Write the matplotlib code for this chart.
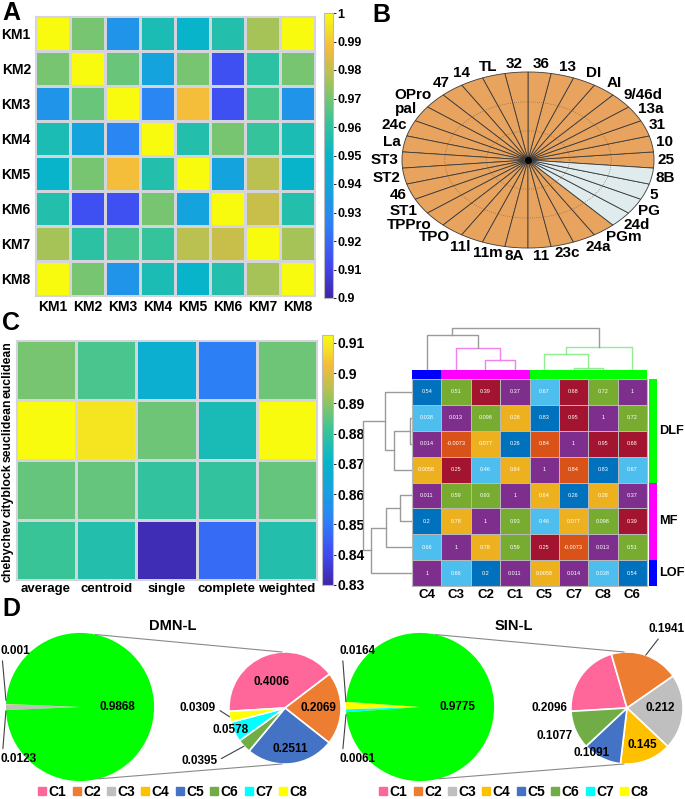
import numpy as np
import matplotlib
matplotlib.use("Agg")
import matplotlib.pyplot as plt
from matplotlib.colors import LinearSegmentedColormap, ListedColormap
from matplotlib.patches import ConnectionPatch
from matplotlib.lines import Line2D

plt.rcParams["font.family"] = ["Liberation Sans", "DejaVu Sans"]
plt.rcParams["font.weight"] = "bold"

# ---------------- data ----------------
km_labels = ["KM1", "KM2", "KM3", "KM4", "KM5", "KM6", "KM7", "KM8"]
km_similarity = [
    [1.000, 0.970, 0.933, 0.955, 0.949, 0.957, 0.976, 1.000],
    [0.970, 1.000, 0.968, 0.939, 0.970, 0.914, 0.959, 0.970],
    [0.933, 0.968, 1.000, 0.928, 0.988, 0.914, 0.964, 0.933],
    [0.955, 0.939, 0.928, 1.000, 0.957, 0.970, 0.961, 0.955],
    [0.949, 0.970, 0.988, 0.957, 1.000, 0.939, 0.979, 0.949],
    [0.957, 0.914, 0.914, 0.970, 0.939, 1.000, 0.981, 0.957],
    [0.976, 0.959, 0.964, 0.961, 0.979, 0.981, 1.000, 0.976],
    [1.000, 0.970, 0.933, 0.955, 0.949, 0.957, 0.976, 1.000],
]

regions = ["25", "10", "31", "13a", "9/46d", "AI", "DI", "13", "36", "32", "TL",
           "14", "47", "OPro", "pal", "24c", "La", "ST3", "ST2", "46", "ST1",
           "TPPro", "TPO", "11l", "11m", "8A", "11", "23c", "24a", "PGm",
           "24d", "PG", "5", "8B"]
regions_second = ["24d", "PG", "5", "8B"]

link_methods = ["average", "centroid", "single", "complete", "weighted"]
distances = ["euclidean", "seuclidean", "cityblock", "chebychev"]
coph_corr = [
    [0.888, 0.883, 0.868, 0.851, 0.887],
    [0.9125, 0.909, 0.887, 0.875, 0.9125],
    [0.886, 0.886, 0.880, 0.880, 0.886],
    [0.881, 0.877, 0.832, 0.847, 0.877],
]

col_order = ["C4", "C3", "C2", "C1", "C5", "C7", "C8", "C6"]
row_order = ["C6", "C8", "C7", "C5", "C1", "C2", "C3", "C4"]
corr = [
    [0.54, 0.51, 0.39, 0.37, 0.67, 0.68, 0.72, 1],
    [0.038, 0.013, 0.098, 0.28, 0.83, 0.95, 1, 0.72],
    [0.014, -0.0073, 0.077, 0.26, 0.84, 1, 0.95, 0.68],
    [0.0058, 0.25, 0.46, 0.64, 1, 0.84, 0.83, 0.67],
    [0.011, 0.59, 0.93, 1, 0.64, 0.26, 0.28, 0.37],
    [0.2, 0.78, 1, 0.93, 0.46, 0.077, 0.098, 0.39],
    [0.66, 1, 0.78, 0.59, 0.25, -0.0073, 0.013, 0.51],
    [1, 0.66, 0.2, 0.011, 0.0058, 0.014, 0.038, 0.54],
]
# colour class of each correlation value (cycled "lines" palette)
corr_class = {-0.0073: 1, 0.0058: 2, 0.011: 3, 0.013: 3, 0.014: 3, 0.038: 5,
              0.077: 2, 0.098: 4, 0.2: 0, 0.25: 6, 0.26: 0, 0.28: 2, 0.37: 3,
              0.39: 6, 0.46: 5, 0.51: 4, 0.54: 0, 0.59: 4, 0.64: 2, 0.66: 5,
              0.67: 5, 0.68: 6, 0.72: 4, 0.78: 2, 0.83: 0, 0.84: 1, 0.93: 4,
              0.95: 6, 1: 3}
cluster_group = {"C1": "MF", "C2": "MF", "C3": "MF", "C4": "LOF",
                 "C5": "DLF", "C6": "DLF", "C7": "DLF", "C8": "DLF"}
# merges: (a, b, new, height)
merges = [("C7", "C8", "g1", 0.05), ("C2", "C1", "m1", 0.24),
          ("C5", "g1", "g2", 0.37), ("C3", "m1", "m2", 0.52),
          ("g2", "C6", "g3", 0.56), ("C4", "m2", "k1", 0.84),
          ("k1", "g3", "root", 1.0)]

dmn_main_names = ["C4", "C3"]
dmn_main_vals = [0.001, 0.0123]
dmn_other = 0.9868
dmn_split_names = ["C1", "C2", "C5", "C6", "C7", "C8"]
dmn_split_vals = [0.4006, 0.2069, 0.2511, 0.0395, 0.0578, 0.0309]

sin_main_names = ["C8", "C7"]
sin_main_vals = [0.0164, 0.0061]
sin_other = 0.9775
sin_split_names = ["C1", "C2", "C3", "C4", "C5", "C6"]
sin_split_vals = [0.2096, 0.1941, 0.212, 0.145, 0.1091, 0.1077]

clusters = ["C1", "C2", "C3", "C4", "C5", "C6", "C7", "C8"]
cluster_colours = {"C1": "#FF6699", "C2": "#ED7D31", "C3": "#BFBFBF", "C4": "#FFC000",
                   "C5": "#4472C4", "C6": "#70AD47", "C7": "#00FFFF", "C8": "#FFFF00"}

# ---------------- style ----------------
parula = LinearSegmentedColormap.from_list("parula", [
    (0.0, "#3E26A8"), (0.12, "#4249F1"), (0.25, "#2E7EF7"), (0.375, "#16A1E0"),
    (0.5, "#07B6C8"), (0.625, "#3BC596"), (0.75, "#9DC45A"), (0.875, "#F4BA3C"),
    (0.94, "#F4DD28"), (1.0, "#F9FB0E")])
lines_pal = ListedColormap(["#0072BD", "#D95319", "#EDB120", "#7E2F8E",
                            "#77AC30", "#4DBEEE", "#A2142F"])
group_colours = {"DLF": "#00FF00", "MF": "#FF00FF", "LOF": "#0000FF"}
grid_col = "#d4d4dc"

W, H = 685, 799
fig = plt.figure(figsize=(W / 100, H / 100), dpi=100)


def px_axes(l, t, w, h):
    return fig.add_axes([l / W, 1 - (t + h) / H, w / W, h / H])


def letter(x, y, s):
    fig.text(x / W, 1 - y / H, s, fontsize=18, ha="left", va="top")


# ---------------- A ----------------
axA = px_axes(35, 16, 280, 280)
mA = axA.pcolormesh(np.array(km_similarity), cmap=parula, vmin=0.9, vmax=1.0,
                    edgecolors=grid_col, linewidth=1)
axA.set_xlim(0, 8)
axA.set_ylim(8, 0)
axA.set_xticks(np.arange(8) + 0.5, km_labels, fontsize=10)
axA.set_yticks(np.arange(8) + 0.5, km_labels, fontsize=10)
axA.tick_params(length=0, pad=3)
for s in axA.spines.values():
    s.set_color(grid_col)
caxA = px_axes(324, 13, 9, 285)
tA = np.round(np.arange(0.9, 1.0001, 0.01), 2)
cbA = fig.colorbar(mA, cax=caxA, ticks=tA)
cbA.ax.set_yticklabels([f"{t:g}" for t in tA])
cbA.ax.tick_params(length=2, width=0.6, labelsize=9, pad=1)
cbA.outline.set_edgecolor("#bbbbbb")
letter(2, 1, "A")

# ---------------- B ----------------
axB = px_axes(373, 55, 310, 210)
b_cols = ["#DFEBEC" if r in regions_second else "#E8A35E" for r in regions]
step = 360 / len(regions)
wedges, _ = axB.pie(np.ones(len(regions)), colors=b_cols, startangle=-step / 2,
                    counterclock=True,
                    wedgeprops=dict(edgecolor="#3a3a3a", linewidth=0.6))
axB.set_aspect("auto")
axB.set_xlim(-1.23, 1.23)
axB.set_ylim(-1.193, 1.193)
tt = np.linspace(0, 2 * np.pi, 300)
for rr in (0.33, 0.66):
    axB.plot(rr * np.cos(tt), rr * np.sin(tt), ls=(0, (1, 2)), color="#7a5a3a", lw=0.5)
axB.plot(0, 0, "o", color="black", ms=4)
for w, lab in zip(wedges, regions):
    th = np.deg2rad(0.5 * (w.theta1 + w.theta2))
    c, s = np.cos(th), np.sin(th)
    if c > 0.4:
        ha, fx = "left", 1.03
    elif c < -0.4:
        ha, fx = "right", 1.03
    else:
        ha, fx = "center", 1.15
    axB.text(fx * c, 1.1 * s, lab, ha=ha, va="center", fontsize=11, clip_on=False)
axB.axis("off")
letter(372, 3, "B")

# ---------------- C (left) ----------------
axC = px_axes(16, 340, 301, 240)
mC = axC.pcolormesh(np.array(coph_corr), cmap=parula, vmin=0.83, vmax=0.9126,
                    edgecolors=grid_col, linewidth=1)
axC.set_xlim(0, 5)
axC.set_ylim(4, 0)
axC.set_xticks(np.arange(5) + 0.5, link_methods, fontsize=9.5)
axC.set_yticks(np.arange(4) + 0.5, distances, fontsize=8.8, rotation=90, va="center")
axC.tick_params(length=0, pad=2)
for s in axC.spines.values():
    s.set_color(grid_col)
caxC = px_axes(322, 335, 11, 250)
tC = np.round(np.arange(0.83, 0.9101, 0.01), 2)
cbC = fig.colorbar(mC, cax=caxC, ticks=tC)
cbC.ax.set_yticklabels([f"{t:g}" for t in tC])
cbC.ax.tick_params(length=2, width=0.6, labelsize=10, pad=1)
cbC.outline.set_edgecolor("#bbbbbb")
letter(2, 311, "C")

# ---------------- C (right) ----------------
corr_arr = np.array(corr)
cls = np.array([[corr_class[v] for v in row] for row in corr])
axM = px_axes(412, 379, 235, 207)
axM.pcolormesh(cls, cmap=lines_pal, vmin=-0.5, vmax=6.5,
               edgecolors="#b8b8b8", linewidth=0.5)
axM.set_xlim(0, 8)
axM.set_ylim(8, 0)
for i in range(8):
    for j in range(8):
        axM.text(j + 0.5, i + 0.5, f"{corr_arr[i, j]:g}", ha="center", va="center",
                 color="white", fontsize=4, fontweight="normal")
axM.set_xticks(np.arange(8) + 0.5, col_order, fontsize=9.5)
axM.set_yticks([])
axM.tick_params(length=0, pad=2)
for s in axM.spines.values():
    s.set_color("#b8b8b8")

gnames = list(group_colours)
gcmap = ListedColormap([group_colours[g] for g in gnames])
axT = px_axes(412, 370, 235, 9)
axT.pcolormesh(np.array([[gnames.index(cluster_group[c]) for c in col_order]]),
               cmap=gcmap, vmin=-0.5, vmax=2.5)
axT.set_xlim(0, 8)
axT.axis("off")
axR = px_axes(649, 379, 8, 207)
row_g = [gnames.index(cluster_group[c]) for c in row_order]
axR.pcolormesh(np.array(row_g)[:, None], cmap=gcmap, vmin=-0.5, vmax=2.5)
axR.set_ylim(8, 0)
axR.set_xlim(0, 1)
axR.axis("off")
for g in gnames:
    idx = [i for i, c in enumerate(row_order) if cluster_group[c] == g]
    axR.text(1.3, np.mean(idx) + 0.5, g, ha="left", va="center", fontsize=9.2,
             clip_on=False)


def dendro(ax, order, top, colours):
    pos = {n: i + 0.5 for i, n in enumerate(order)}
    hgt = {n: 0.0 for n in order}
    for a, b, new, h in merges:
        p = [pos[a], pos[a], pos[b], pos[b]]
        q = [hgt[a], h, h, hgt[b]]
        col = colours.get(new, "#9a9a9a")
        if top:
            ax.plot(p, q, color=col, lw=1)
        else:
            ax.plot(q, p, color=col, lw=1)
        pos[new] = 0.5 * (pos[a] + pos[b])
        hgt[new] = h


axDT = px_axes(412, 326, 235, 44)
dendro(axDT, col_order, True, {"g1": "#90EE90", "g2": "#90EE90", "g3": "#90EE90",
                               "m1": "#F080F0", "m2": "#F080F0"})
axDT.set_xlim(0, 8)
axDT.set_ylim(0, 1.05)
axDT.axis("off")
axDL = px_axes(361, 379, 51, 207)
dendro(axDL, row_order, False, {})
axDL.set_ylim(8, 0)
axDL.set_xlim(1.04, 0)
axDL.axis("off")

# ---------------- D ----------------
letter(2, 597, "D")


def pie_of_pie(bx, sx, title_x, title, main_names, main_vals, other, split_names,
               split_vals, split_spec):
    big = px_axes(bx - 80, 627, 160, 160)
    small = px_axes(sx - 60, 648, 120, 120)
    span = sum(main_vals) * 360
    bw, _ = big.pie(main_vals + [other],
                    colors=[cluster_colours[n] for n in main_names] + ["#00FF00"],
                    startangle=180 - span / 2, counterclock=True,
                    wedgeprops=dict(linewidth=0))
    big.set_xlim(-1.08, 1.08)
    big.set_ylim(-1.08, 1.08)
    big.set_aspect("equal")
    big.text(0.5, 0.0, f"{other:g}", ha="center", va="center", fontsize=8.5)
    for k, (w, v) in enumerate(zip(bw, main_vals)):
        e = np.deg2rad(0.5 * (w.theta1 + w.theta2))
        ty = 0.76 if k == 0 else -0.70
        big.annotate(f"{v:g}", xy=(np.cos(e), np.sin(e) + (0.05 if k == 0 else -0.05)),
                     xytext=(-1.08, ty), ha="left", va="center", fontsize=8.5,
                     annotation_clip=False,
                     arrowprops=dict(arrowstyle="-", color="#404040", lw=0.8,
                                     shrinkA=1, shrinkB=0,
                                     relpos=(0.07, 0) if k == 0 else (0.07, 1)))
    sw, _ = small.pie(split_vals, colors=[cluster_colours[n] for n in split_names],
                      startangle=183.4, counterclock=False,
                      wedgeprops=dict(edgecolor="white", linewidth=1.2))
    small.set_xlim(-1.07, 1.07)
    small.set_ylim(-1.07, 1.07)
    small.set_aspect("equal")
    for w, v, (r, dth, ha, lead) in zip(sw, split_vals, split_spec):
        mid = 0.5 * (w.theta1 + w.theta2)
        a = np.deg2rad(mid + dth)
        x, y = r * np.cos(a), r * np.sin(a)
        if lead:
            e = np.deg2rad(mid)
            va = "center" if ha == "right" else "bottom"
            rp = (1, 0.5) if ha == "right" else (0.35, 0)
            small.annotate(f"{v:g}", xy=(np.cos(e), np.sin(e)), xytext=(x, y),
                           ha=ha, va=va, fontsize=8.5, annotation_clip=False,
                           arrowprops=dict(arrowstyle="-", color="#404040", lw=0.8,
                                           shrinkA=1, shrinkB=0, relpos=rp))
        else:
            small.text(x, y, f"{v:g}", ha=ha, va="center", fontsize=8.5,
                       clip_on=False)
    for ab, asm in ((78, 93), (-76, -93)):
        con = ConnectionPatch(xyA=(np.cos(np.deg2rad(ab)), np.sin(np.deg2rad(ab))),
                              coordsA=big.transData,
                              xyB=(np.cos(np.deg2rad(asm)), np.sin(np.deg2rad(asm))),
                              coordsB=small.transData, color="#8a8a8a", lw=0.8)
        fig.add_artist(con)
    fig.text(title_x / W, 1 - 626 / H, title, ha="center", va="center", fontsize=10.5)
    handles = [Line2D([], [], marker="s", ls="", ms=6, color=cluster_colours[c])
               for c in clusters]
    fig.legend(handles, clusters, loc="center", ncol=8, frameon=False,
               bbox_to_anchor=(title_x / W, 1 - 792 / H), fontsize=10,
               handlelength=0.5, handletextpad=0.2, columnspacing=0.5,
               borderpad=0, borderaxespad=0)


pie_of_pie(80, 285, 173, "DMN-L", dmn_main_names, dmn_main_vals, dmn_other,
           dmn_split_names, dmn_split_vals,
           [(0.52, 8, "center", False), (0.6, 1, "center", False),
            (0.73, 1, "center", False), (1.53, -5, "right", True),
            (1.04, -3, "center", False), (1.23, -9, "right", True)])
pie_of_pie(420, 627, 514, "SIN-L", sin_main_names, sin_main_vals, sin_other,
           sin_split_names, sin_split_vals,
           [(1.06, 35, "right", False), (1.48, -9, "center", True),
            (0.6, 4, "center", False), (0.71, 2, "center", False),
            (1.02, -12, "center", False), (1.09, 4, "right", False)])

fig.savefig("out.png", dpi=100)
